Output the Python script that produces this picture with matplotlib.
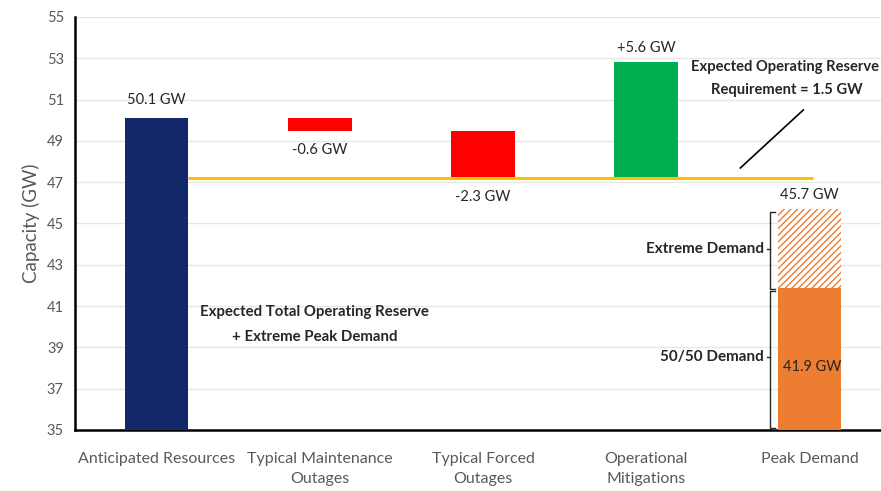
import matplotlib.pyplot as plt
from matplotlib.lines import Line2D

# Waterfall inputs (GW)
categories = ["Anticipated Resources", "Typical Maintenance\nOutages",
              "Typical Forced\nOutages", "Operational\nMitigations", "Peak Demand"]
anticipated = 50.1
changes = [-0.6, -2.3, 5.6]
demand_5050 = 41.9
demand_extreme = 45.7
reserve_req = 1.5
y_ticks = list(range(35, 56, 2))

NAVY = "#13276B"
RED = "#FF0000"
GREEN = "#00B050"
ORANGE = "#ED7D31"
YELLOW = "#FFC000"
GREY = "#595959"
DARK = "#262626"

plt.rcParams["font.family"] = ["Lato", "DejaVu Sans"]

fig = plt.figure(figsize=(8.81, 4.91), dpi=100)
ax = fig.add_axes([75 / 881, 61 / 491, 816 / 881, 413 / 491])
ax.set_xlim(-0.5, 4.5)
ax.set_ylim(35, 55)
base = 35
w = 0.39

# Anticipated resources
ax.bar(0, anticipated - base, bottom=base, width=w, color=NAVY, zorder=3)
ax.text(0, anticipated + 0.55, f"{anticipated} GW", ha="center", va="bottom",
        fontsize=10.5, color=DARK)

# Stepped changes
level = anticipated
colors = [RED, RED, GREEN]
for i, (d, c) in enumerate(zip(changes, colors), start=1):
    lo, hi = sorted([level, level + d])
    ax.bar(i, hi - lo, bottom=lo, width=w, color=c, zorder=3)
    level += d

# Value labels for the changes
ax.text(1, 48.55, f"{changes[0]} GW", ha="center", va="center", fontsize=10.5, color=DARK)
ax.text(2, 46.28, f"{changes[1]} GW", ha="center", va="center", fontsize=10.5, color=DARK)
ax.text(3, 53.5, f"+{changes[2]} GW", ha="center", va="center", fontsize=10.5, color=DARK)

# Reserve line after outages
reserve_level = anticipated + changes[0] + changes[1]
ax.plot([w / 2, 4.02], [reserve_level, reserve_level], color=YELLOW, lw=2.2,
        zorder=4, solid_capstyle="butt")

# Peak demand: 50/50 and extreme portions
ax.bar(4, demand_5050 - base, bottom=base, width=w, color=ORANGE, zorder=3)
ax.bar(4, demand_extreme - demand_5050, bottom=demand_5050, width=w,
       facecolor="white", edgecolor=ORANGE, hatch="/////", lw=0, zorder=3)
ax.text(4, demand_extreme + 0.35, f"{demand_extreme} GW", ha="center", va="bottom",
        fontsize=10.5, color=DARK)
ax.text(4.02, 38.05, f"{demand_5050} GW", ha="center", va="center", fontsize=10.5,
        color=DARK)

# Brackets for demand components
bx = 3.76


def bracket(y0, y1, ymid):
    ax.add_line(Line2D([bx + 0.03, bx, bx, bx + 0.03], [y1, y1, y0, y0],
                       color=DARK, lw=1.0, zorder=5))
    ax.add_line(Line2D([bx, bx - 0.02], [ymid, ymid], color=DARK, lw=1.0, zorder=5))


bracket(41.85, 45.55, 43.77)
bracket(35.1, 41.75, 38.53)
ax.text(3.72, 43.77, "Extreme Demand", ha="right", va="center", fontsize=11,
        fontweight="bold", color=DARK)
ax.text(3.72, 38.53, "50/50 Demand", ha="right", va="center", fontsize=11,
        fontweight="bold", color=DARK)

# Reserve requirement callout
ax.text(3.85, 52.58, "Expected Operating Reserve", ha="center", va="center",
        fontsize=10.6, fontweight="bold", color=DARK)
ax.text(3.86, 51.46, f"Requirement = {reserve_req} GW", ha="center", va="center",
        fontsize=10.6, fontweight="bold", color=DARK)
ax.plot([3.577, 3.963], [47.69, 50.5], color="black", lw=1.2, zorder=5)

ax.text(0.97, 40.71, "Expected Total Operating Reserve", ha="center", va="center",
        fontsize=10.8, fontweight="bold", color=DARK)
ax.text(0.97, 39.5, "+ Extreme Peak Demand", ha="center", va="center",
        fontsize=10.8, fontweight="bold", color=DARK)

# Axes styling
ax.set_yticks(y_ticks)
ax.set_xticks(range(len(categories)))
ax.set_xticklabels(categories, fontsize=11.5, color=GREY, linespacing=1.5)
ax.tick_params(axis="both", length=0)
ax.tick_params(axis="y", labelsize=10.5, labelcolor=GREY, pad=8)
ax.tick_params(axis="x", pad=16)
ax.grid(axis="y", color="#E6E6E6", lw=1, zorder=0)
ax.set_axisbelow(True)
for s in ("top", "right"):
    ax.spines[s].set_visible(False)
for s in ("left", "bottom"):
    ax.spines[s].set_color("black")
    ax.spines[s].set_linewidth(1.8)
ax.set_ylabel("Capacity (GW)", fontsize=13.5, color=GREY, labelpad=5)

fig.savefig("out.png", dpi=100)
